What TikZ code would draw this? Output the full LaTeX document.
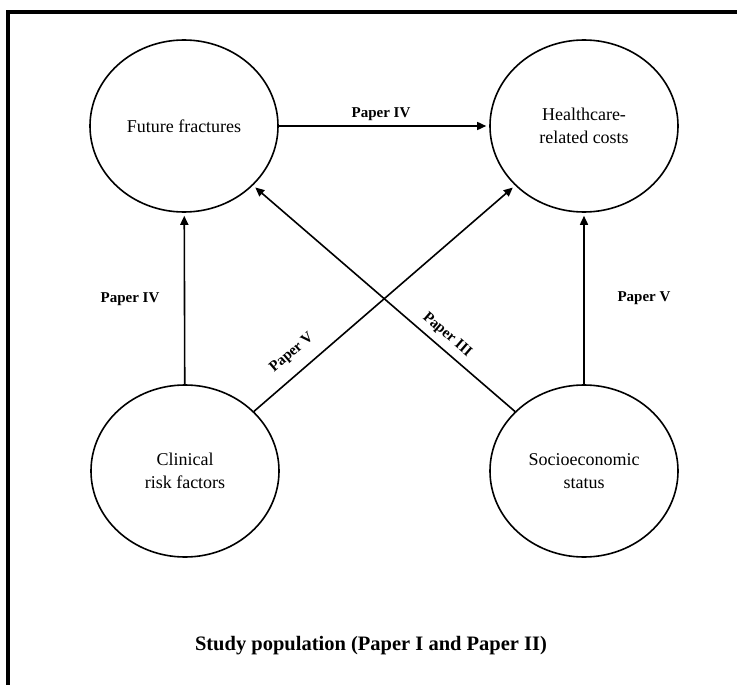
\documentclass[tikz,border=0pt]{standalone}
\usepackage{fontspec}
\setmainfont{Liberation Serif}
\usetikzlibrary{arrows.meta,shapes.geometric}
\begin{document}
\begin{tikzpicture}[x=1pt,y=-1pt,
  bubble/.style={ellipse,draw,line width=1.6pt,minimum width=188pt,minimum height=172pt,inner sep=0pt,align=center,font=\fontsize{18}{23}\selectfont},
  conn/.style={line width=1.6pt,-{Triangle[length=9pt,width=8pt]},shorten >=3pt},
  lbl/.style={font=\bfseries\fontsize{15}{18}\selectfont,inner sep=0pt},
  title/.style={font=\bfseries\fontsize{20.5}{24}\selectfont,inner sep=0pt}]
\useasboundingbox (0,0) rectangle (737,685);
\draw[line width=4pt,line join=miter] (8,685) -- (8,12) -- (737,12);
\node[bubble] (ff) at (184,126) {Future fractures};
\node[bubble] (hc) at (584,126) {Healthcare-\\related costs};
\node[bubble] (cl) at (185,471) {Clinical\\risk factors};
\node[bubble] (se) at (584,471) {Socioeconomic\\status};
\draw[conn] (ff) -- (hc);
\draw[conn] (cl) -- (ff);
\draw[conn] (se) -- (hc);
\draw[conn] (cl) -- (hc);
\draw[conn] (se) -- (ff);
\node[lbl] (l1) at (381,114) {Paper IV};
\node[lbl] (l2) at (130,299) {Paper IV};
\node[lbl] (l3) at (644,298) {Paper V};
\node[lbl,rotate=40.8] (l4) at (292,353) {Paper V};
\node[lbl,rotate=-40.8] (l5) at (447,335) {Paper III};
\node[title] (t) at (371,646) {Study population (Paper I and Paper II)};
\end{tikzpicture}
\end{document}
